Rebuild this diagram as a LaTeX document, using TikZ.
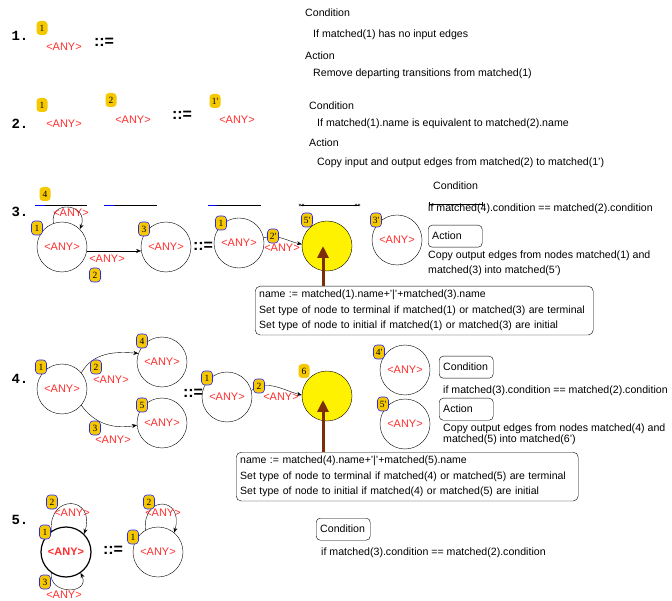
\documentclass[tikz,border=0pt]{standalone}
\usepackage{fontspec}
\setmainfont{Liberation Sans}
\newfontfamily\tagserif{Liberation Serif}
\newfontfamily\codemono{Liberation Mono}
\usetikzlibrary{arrows.meta}

% Colours
\definecolor{tagyellow}{RGB}{245,200,0}
\definecolor{anyred}{RGB}{255,45,45}
\definecolor{mergebrown}{RGB}{125,45,10}

% Fonts
\newcommand\anyfont{\fontsize{11}{12}\selectfont}
\newcommand\tagfont{\tagserif\fontsize{9.5}{10}\selectfont}
\newcommand\infofont{\fontsize{10.6}{12}\selectfont}
\newcommand\rulenumfont{\codemono\bfseries\fontsize{14}{14}\selectfont}
\newcommand\becomesfont{\bfseries\fontsize{16}{16}\selectfont}

\tikzset{
  state/.style={circle, draw, minimum size=50pt, inner sep=0pt, text=anyred, font=\anyfont},
  merged/.style={state, fill=yellow},
  tag/.style={fill=tagyellow, rounded corners=3.5pt, minimum width=11pt, minimum height=14pt, inner sep=0.5pt, font=\tagfont},
  bluetag/.style={tag, draw=blue!85, line width=0.6pt},
  anylabel/.style={text=anyred, font=\anyfont, inner sep=0.5pt},
  info/.style={anchor=west, inner sep=0pt, font=\infofont},
  keybox/.style={draw, rounded corners=4pt, anchor=north west, text width=46pt, minimum height=22pt, inner sep=4pt, font=\infofont},
  codebox/.style={draw, rounded corners=5pt, anchor=north west, align=left, inner sep=4pt, font=\fontsize{10.5}{15.5}\selectfont},
  rulenum/.style={font=\rulenumfont},
  becomes/.style={font=\becomesfont},
  link/.style={-{Stealth[length=5pt,width=4pt]}, thin},
  mergearrow/.style={-{Triangle[length=12pt,width=11pt]}, line width=3pt, draw=mergebrown},
}

\begin{document}
\begin{tikzpicture}[x=1pt,y=1pt]
\useasboundingbox (0,0) rectangle (672,-601);

% Rule 1
\node[rulenum] (num1) at (20,-36) {1.};
\node[tag] (t1a) at (42,-28) {1};
\node[anylabel] (any1a) at (64,-47) {<ANY>};
\node[becomes] (eq1) at (104,-42) {::=};
\node[info] (cond1) at (305,-13) {Condition};
\node[info] (cond1txt) at (313,-35) {If matched(1) has no input edges};
\node[info] (act1) at (305,-56) {Action};
\node[info] (act1txt) at (313,-74) {Remove departing transitions from matched(1)};

% Rule 2
\node[rulenum] (num2) at (20,-124) {2.};
\node[tag] (t2a) at (42,-105) {1};
\node[anylabel] (any2a) at (64,-124) {<ANY>};
\node[tag] (t2b) at (111,-100) {2};
\node[anylabel] (any2b) at (133,-120) {<ANY>};
\node[becomes] (eq2) at (182,-115) {::=};
\node[tag] (t2c) at (215,-101) {1'};
\node[anylabel] (any2c) at (237,-120) {<ANY>};
\node[info] (cond2) at (309,-106) {Condition};
\node[info] (cond2txt) at (317,-124) {If matched(1).name is equivalent to matched(2).name};
\node[info] (act2) at (309,-143) {Action};
\node[info] (act2txt) at (317,-163) {Copy input and output edges from matched(2) to matched(1')};

% Rule 3
\node[rulenum] (num3) at (20,-212) {3.};
\draw (35,-205) -- (87,-205);
\draw[blue] (35,-205) -- (45,-205);
\draw (104,-205) -- (157,-205);
\draw[blue] (104,-205) -- (114,-205);
\draw (208,-205) -- (261,-205);
\draw[blue] (208,-205) -- (217,-205);
\draw (301,-205) -- (359,-205);
\foreach \x in {300,303,356,359} {
  \draw (\x,-205) circle (1.2);
}
\node[state] (a1) at (62,-247) {<ANY>};
\node[state] (a3) at (166,-247) {<ANY>};
\node[bluetag] (t3a) at (37,-228) {1};
\node[tag] (t3d) at (45,-194) {4};
\node[bluetag] (t3c) at (144,-229) {3};
\draw[link] (a1.110) .. controls +(-4,25) and +(10,25) .. (a1.45);
\node[anylabel] (any3loop) at (71,-213) {<ANY>};
\draw[link] (a1.-9) -- (a3.189);
\node[anylabel] (any3e) at (107,-259) {<ANY>};
\node[bluetag] (t3b) at (95,-275) {2};
\node[becomes] (eq3) at (203,-246) {::=};
\node[state] (b1) at (239,-243) {<ANY>};
\node[merged] (m5) at (327,-246) {};
\node[state] (b3) at (397,-240) {<ANY>};
\node[bluetag] (t3e) at (221,-223) {1};
\draw[link] (b1.12) to[out=15,in=168] (m5.176);
\node[bluetag] (t3f) at (273,-236) {2'};
\node[anylabel] (any3f) at (282,-248) {<ANY>};
\node[bluetag] (t3g) at (307,-220) {5'};
\node[bluetag] (t3h) at (376,-220) {3'};
\node[codebox, text width=330pt] (box3) at (255,-286)
  {name := matched(1).name+'|'+matched(3).name\\
   Set type of node to terminal if matched(1) or matched(3) are terminal\\
   Set type of node to initial if matched(1) or matched(3) are initial};
\coordinate (tip3) at (323,-246);
\draw[mergearrow] (tip3 |- box3.north) -- (tip3);
\node[info] (cond3) at (433,-186) {Condition};
\node[info] (cond3txt) at (428,-209) {if matched(4).condition == matched(2).condition};
\draw (429,-204) -- (482,-204);
\draw (429,-202) -- (429,-206);
\draw (482,-202) -- (482,-206);
\node[keybox] (act3) at (428,-225) {Action};
\node[info, align=left, font=\fontsize{10.6}{15}\selectfont] (act3txt) at (428,-263.5)
  {Copy output edges from nodes matched(1) and\\matched(3) into matched(5')};

% Rule 4
\node[rulenum] (num4) at (20,-379) {4.};
\node[state] (c1) at (62,-389) {<ANY>};
\node[state] (c4) at (162,-362) {<ANY>};
\node[state] (c5) at (162,-423) {<ANY>};
\node[bluetag] (t4a) at (41,-367) {1};
\node[bluetag] (t4d) at (142,-341) {4};
\node[bluetag] (t4e) at (142,-405) {5};
\draw[link] (c1.40) to[out=60,in=175] (c4.160);
\draw[link] (c1.-40) to[out=-55,in=190] (c5.185);
\node[bluetag] (t4b) at (96,-367) {2};
\node[anylabel] (any4b) at (111,-380) {<ANY>};
\node[bluetag] (t4c) at (95,-428) {3};
\node[anylabel] (any4c) at (113,-440) {<ANY>};
\node[becomes] (eq4) at (193,-393) {::=};
\node[state] (d1) at (227,-397) {<ANY>};
\node[merged] (m6) at (327,-396) {};
\node[bluetag] (t4f) at (207,-378) {1};
\draw[link] (d1.15) to[out=35,in=165] (m6.178);
\node[bluetag] (t4g) at (259,-386) {2};
\node[anylabel] (any4g) at (281,-397) {<ANY>};
\node[tag] (t4h) at (304,-371) {6};
\node[state] (d4) at (405,-370) {<ANY>};
\node[state] (d5) at (405,-424) {<ANY>};
\node[bluetag] (t4i) at (379,-352) {4'};
\node[bluetag] (t4j) at (383,-404) {5'};
\node[codebox, text width=334pt] (box4) at (236,-452)
  {name := matched(4).name+'|'+matched(5).name\\
   Set type of node to terminal if matched(4) or matched(5) are terminal\\
   Set type of node to initial if matched(4) or matched(5) are initial};
\coordinate (tip4) at (323,-400);
\draw[mergearrow] (tip4 |- box4.north) -- (tip4);
\node[keybox] (cond4) at (439,-356) {Condition};
\node[info] (cond4txt) at (443,-391) {if matched(3).condition == matched(2).condition};
\node[keybox] (act4) at (439,-398) {Action};
\node[info, align=left, font=\fontsize{10.6}{11.5}\selectfont] (act4txt) at (443,-434.5)
  {Copy output edges from nodes matched(4) and\\matched(5) into matched(6')};

% Rule 5
\node[rulenum] (num5) at (20,-520) {5.};
\node[state, line width=1.2pt, font=\anyfont\bfseries] (e1) at (66,-552) {<ANY>};
\draw[link] (e1.125) .. controls +(-3,38) and +(12,38) .. (e1.45);
\draw[link] (e1.-125) .. controls +(-3,-22) and +(10,-22) .. (e1.-55);
\node[anylabel] (any5a) at (72,-513) {<ANY>};
\node[anylabel] (any5b) at (64,-595) {<ANY>};
\node[bluetag] (t5b) at (52,-502) {2};
\node[bluetag] (t5a) at (45,-532) {1};
\node[bluetag] (t5c) at (45,-582) {3};
\node[becomes] (eq5) at (113,-550) {::=};
\node[state] (f1) at (158,-552) {<ANY>};
\draw[link] (f1.120) .. controls +(-3,36) and +(10,36) .. (f1.50);
\node[anylabel] (any5c) at (163,-513) {<ANY>};
\node[bluetag] (t5d) at (149,-502) {2};
\node[bluetag] (t5e) at (133,-537) {1};
\node[keybox, text width=46pt] (cond5) at (316,-518) {Condition};
\node[info] (cond5txt) at (321,-553) {if matched(3).condition == matched(2).condition};

\end{tikzpicture}
\end{document}
